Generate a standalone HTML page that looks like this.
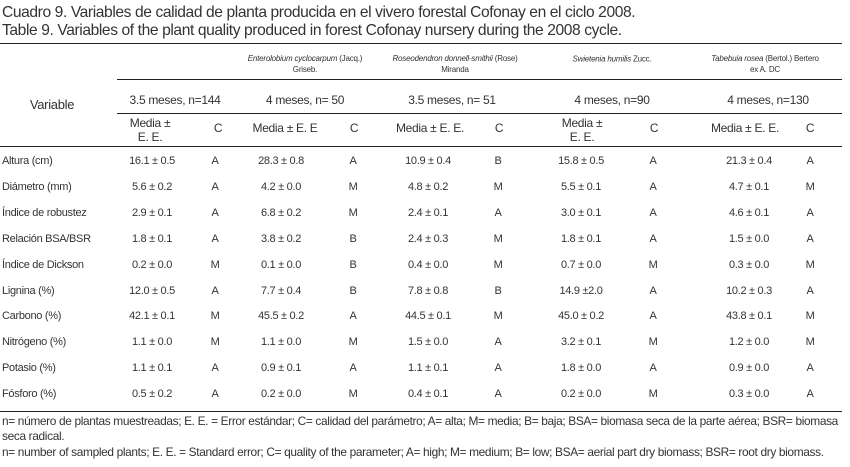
<!DOCTYPE html>
<html><head><meta charset="utf-8"><style>
body{margin:0;background:#fff;}
#p{position:relative;width:850px;height:467px;overflow:hidden;font-family:"Liberation Sans",sans-serif;color:#333;}
.t{position:absolute;white-space:nowrap;font-size:11px;letter-spacing:-0.3px;line-height:12px;}
.c{transform:translate(-50%,-50%);text-align:center;}
.l{transform:translateY(-50%);}
.h{position:absolute;height:1.3px;background:#222;}
.sp{font-style:italic;font-size:8px;letter-spacing:-0.2px;line-height:11px;}
.hd{font-size:12px;}
.fn{font-size:11.9px;letter-spacing:-0.35px;}
</style></head><body><div id="p">
<div class="t" style="left:2px;top:4px;font-size:15.6px;line-height:18px;letter-spacing:-0.4px">Cuadro 9. Variables de calidad de planta producida en el vivero forestal Cofonay en el ciclo 2008.</div>
<div class="t" style="left:2px;top:22px;font-size:15.6px;line-height:18px;letter-spacing:-0.4px">Table 9. Variables of the plant quality produced in forest Cofonay nursery during the 2008 cycle.</div>
<div class="h" style="left:0;width:842px;top:43px"></div>
<div class="h" style="left:117px;width:725px;top:79px"></div>
<div class="h" style="left:117px;width:725px;top:113px"></div>
<div class="h" style="left:0;width:842px;top:146px"></div>
<div class="h" style="left:0;width:842px;top:411px"></div>

<div class="t c sp" style="left:305px;top:64px"><i>Enterolobium cyclocarpum</i> <span style="font-style:normal">(Jacq.)<br>Griseb.</span></div>
<div class="t c sp" style="left:455px;top:64px"><i>Roseodendron donnell-smithii</i> <span style="font-style:normal">(Rose)<br>Miranda</span></div>
<div class="t c sp" style="left:612px;top:59px"><i>Swietenia humilis</i> <span style="font-style:normal">Zucc.</span></div>
<div class="t c sp" style="left:765px;top:64px"><i>Tabebuia rosea</i> <span style="font-style:normal">(Bertol.) Bertero<br>ex A. DC</span></div>

<div class="t c hd" style="left:52px;top:105px;font-size:13px">Variable</div>
<div class="t c hd" style="left:175px;top:100px">3.5 meses, n=144</div>
<div class="t c hd" style="left:305px;top:100px">4 meses, n= 50</div>
<div class="t c hd" style="left:452px;top:100px">3.5 meses, n= 51</div>
<div class="t c hd" style="left:612px;top:100px">4 meses, n=90</div>
<div class="t c hd" style="left:768px;top:100px">4 meses, n=130</div>

<div class="t c hd" style="left:150px;top:130px;line-height:14px">Media ±<br>E. E.</div>
<div class="t c hd" style="left:218px;top:128px">C</div>
<div class="t c hd" style="left:285px;top:128px">Media ± E. E</div>
<div class="t c hd" style="left:354px;top:128px">C</div>
<div class="t c hd" style="left:430px;top:128px">Media ± E. E.</div>
<div class="t c hd" style="left:499px;top:128px">C</div>
<div class="t c hd" style="left:582px;top:130px;line-height:14px">Media ±<br>E. E.</div>
<div class="t c hd" style="left:654px;top:128px">C</div>
<div class="t c hd" style="left:745px;top:128px">Media ± E. E.</div>
<div class="t c hd" style="left:810px;top:128px">C</div>

<div id="rows"></div>
<script>
var d=[["Altura (cm)","16.1 ± 0.5","A","28.3 ± 0.8","A","10.9 ± 0.4","B","15.8 ± 0.5","A","21.3 ± 0.4","A"],
["Diámetro (mm)","5.6 ± 0.2","A","4.2 ± 0.0","M","4.8 ± 0.2","M","5.5 ± 0.1","A","4.7 ± 0.1","M"],
["Índice de robustez","2.9 ± 0.1","A","6.8 ± 0.2","M","2.4 ± 0.1","A","3.0 ± 0.1","A","4.6 ± 0.1","A"],
["Relación BSA/BSR","1.8 ± 0.1","A","3.8 ± 0.2","B","2.4 ± 0.3","M","1.8 ± 0.1","A","1.5 ± 0.0","A"],
["Índice de Dickson","0.2 ± 0.0","M","0.1 ± 0.0","B","0.4 ± 0.0","M","0.7 ± 0.0","M","0.3 ± 0.0","M"],
["Lignina (%)","12.0 ± 0.5","A","7.7 ± 0.4","B","7.8 ± 0.8","B","14.9 ±2.0","A","10.2 ± 0.3","A"],
["Carbono (%)","42.1 ± 0.1","M","45.5 ± 0.2","A","44.5 ± 0.1","M","45.0 ± 0.2","A","43.8 ± 0.1","M"],
["Nitrógeno (%)","1.1 ± 0.0","M","1.1 ± 0.0","M","1.5 ± 0.0","A","3.2 ± 0.1","M","1.2 ± 0.0","M"],
["Potasio (%)","1.1 ± 0.1","A","0.9 ± 0.1","A","1.1 ± 0.1","A","1.8 ± 0.0","A","0.9 ± 0.0","A"],
["Fósforo (%)","0.5 ± 0.2","A","0.2 ± 0.0","M","0.4 ± 0.1","A","0.2 ± 0.0","M","0.3 ± 0.0","A"]];
var xs=[152,215,281,353,428,498,581,653,749,810],h="";
d.forEach(function(r,i){var y=161+i*25.9;
h+='<div class="t l" style="left:2px;top:'+y+'px">'+r[0]+'</div>';
for(var j=1;j<11;j++)h+='<div class="t c" style="left:'+xs[j-1]+'px;top:'+y+'px">'+r[j]+'</div>';});
document.getElementById("rows").innerHTML=h;
</script>
<div class="t fn" style="left:2px;top:415px">n= número de plantas muestreadas; E. E. = Error estándar; C= calidad del parámetro; A= alta; M= media; B= baja; BSA= biomasa seca de la parte aérea; BSR= biomasa</div>
<div class="t fn" style="left:2px;top:430px">seca radical.</div>
<div class="t fn" style="left:2px;top:446px">n= number of sampled plants; E. E. = Standard error; C= quality of the parameter; A= high; M= medium; B= low; BSA= aerial part dry biomass; BSR= root dry biomass.</div>
</div></body></html>
